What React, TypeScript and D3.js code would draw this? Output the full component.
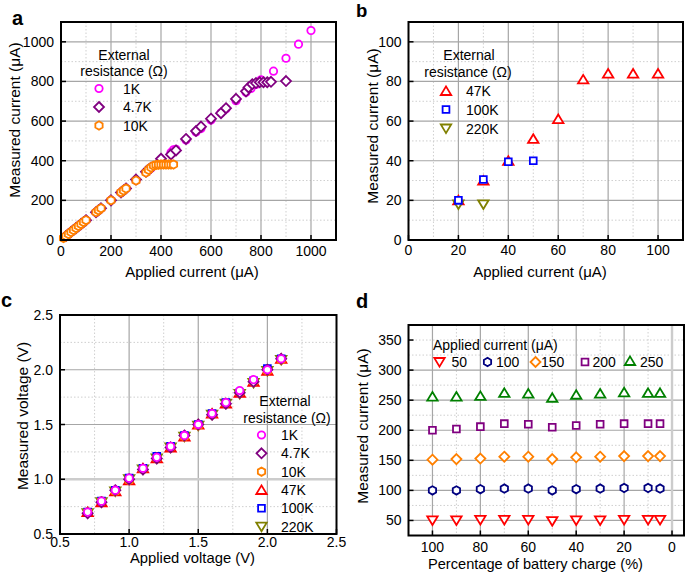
import React from 'react';
import * as d3 from 'd3';

const FONT = "'Liberation Sans', Arial, Helvetica, sans-serif";

// ---------- Panel a data ----------
const aX1K = [20, 30, 40, 50, 60, 70, 80, 90, 100, 140, 150, 160, 200, 240, 250, 260, 300, 340, 350, 360, 400, 440, 450, 460, 500, 540, 560, 600, 640, 660, 700, 740, 760, 780, 800, 850, 900, 950, 1000];
const aY1K = [20, 30, 40, 50, 60, 70, 80, 90, 100, 140, 150, 160, 200, 240, 250, 260, 302, 342, 352, 362, 405, 442, 455, 458, 505, 545, 562, 605, 642, 662, 703, 745, 765, 785, 808, 852, 917, 988, 1057];
const aX47 = [20, 30, 40, 50, 60, 70, 80, 90, 100, 140, 150, 160, 200, 240, 250, 260, 300, 340, 350, 360, 400, 440, 460, 500, 540, 560, 600, 640, 660, 700, 740, 750, 765, 780, 795, 810, 825, 840, 900];
const aY47 = [20, 30, 40, 50, 60, 70, 80, 90, 100, 140, 150, 160, 200, 240, 250, 260, 305, 345, 355, 365, 410, 432, 452, 510, 550, 572, 612, 640, 665, 712, 750, 770, 786, 792, 796, 796, 796, 798, 802];
const aX10K = [10, 20, 30, 40, 50, 60, 70, 80, 90, 100, 140, 150, 160, 200, 240, 250, 260, 300, 340, 350, 360, 370, 380, 390, 400, 410, 420, 430, 440, 450];
const aY10K = [10, 20, 30, 40, 50, 60, 70, 80, 90, 100, 140, 150, 160, 200, 240, 250, 260, 300, 340, 354, 366, 375, 379, 380, 381, 381, 381, 381, 381, 381];

// ---------- Panel b data ----------
const bX47K = [20, 30, 40, 50, 60, 70, 80, 90, 100];
const bY47K = [20, 30, 40, 51, 61, 81, 84, 84, 84];
const bX100K = [20, 30, 40, 50];
const bY100K = [20, 30.5, 39.5, 40];
const bX220K = [20, 30];
const bY220K = [18, 18];

// ---------- Panel c data ----------
const cX = [0.7, 0.8, 0.9, 1.0, 1.1, 1.2, 1.3, 1.4, 1.5, 1.6, 1.7, 1.8, 1.9, 2.0, 2.1];
const cY1K = [0.70, 0.80, 0.90, 1.01, 1.10, 1.20, 1.30, 1.40, 1.50, 1.60, 1.70, 1.81, 1.91, 2.00, 2.10];
const cY4K7 = [0.69, 0.79, 0.90, 1.00, 1.09, 1.19, 1.29, 1.40, 1.50, 1.59, 1.69, 1.79, 1.89, 2.00, 2.10];
const cY10K = [0.70, 0.80, 0.89, 0.99, 1.09, 1.19, 1.29, 1.39, 1.49, 1.59, 1.69, 1.79, 1.89, 1.99, 2.09];
const cY47K = [0.70, 0.79, 0.89, 0.99, 1.10, 1.19, 1.29, 1.39, 1.50, 1.60, 1.69, 1.79, 1.89, 1.99, 2.10];
const cY100K = [0.70, 0.80, 0.90, 1.01, 1.10, 1.21, 1.30, 1.40, 1.50, 1.60, 1.70, 1.79, 1.90, 2.01, 2.10];
const cY220K = [0.69, 0.79, 0.89, 1.00, 1.09, 1.19, 1.29, 1.39, 1.49, 1.59, 1.69, 1.78, 1.88, 1.99, 2.09];

// ---------- Panel d data ----------
const dX = [100, 90, 80, 70, 60, 50, 40, 30, 20, 10, 5];
const d50 = [50, 50, 51, 51, 51, 49, 50, 50, 51, 51, 51];
const d100 = [100, 100, 102, 103, 103, 100, 102, 103, 104, 104, 103];
const d150 = [151, 152, 153, 156, 156, 152, 155, 156, 157, 157, 157];
const d200 = [200, 202, 206, 211, 210, 205, 208, 210, 211, 211, 211];
const d250 = [256, 256, 257, 262, 261, 254, 259, 261, 263, 262, 262];

// ---------- tick values ----------
const aTicks = [0, 200, 400, 600, 800, 1000];
const aMinor = [100, 300, 500, 700, 900];
const bTicks = [0, 20, 40, 60, 80, 100];
const bMinor = [10, 30, 50, 70, 90];
const cTicks = [0.5, 1.0, 1.5, 2.0, 2.5];
const cMinor = [0.75, 1.25, 1.75, 2.25];
const dXTicks = [100, 80, 60, 40, 20, 0];
const dXMinor = [90, 70, 50, 30, 10];
const dYTicks = [50, 100, 150, 200, 250, 300, 350];
const dYMinor = [75, 125, 175, 225, 275, 325];

const C = {
  k1: '#ff00ff',
  k47: '#800080',
  k10: '#ff8000',
  k47K: '#ff0000',
  k100K: '#0000ff',
  k220K: '#808000',
  i50: '#ff0000',
  i100: '#000080',
  i150: '#ff8000',
  i200: '#800080',
  i250: '#008000',
};

type MarkerType = 'circle' | 'diamond' | 'hexagon' | 'triUp' | 'triDown' | 'square';

function Marker({ t, x, y, color }: { t: MarkerType; x: number; y: number; color: string }) {
  const sw = 1.8;
  const common = { fill: 'white', stroke: color, strokeWidth: sw };
  if (t === 'circle') return <circle cx={x} cy={y} r={3.7} {...common} />;
  let d = '';
  if (t === 'diamond') {
    const h = 5;
    d = `M0,${-h}L${h},0L0,${h}L${-h},0Z`;
  } else if (t === 'square') {
    const s = 3.4;
    d = `M${-s},${-s}H${s}V${s}H${-s}Z`;
  } else if (t === 'triUp') {
    d = `M0,-4.6L5.2,4L-5.2,4Z`;
  } else if (t === 'triDown') {
    d = `M0,4.6L5.2,-4L-5.2,-4Z`;
  } else if (t === 'hexagon') {
    const r = 4.2;
    const pts = d3.range(6).map((i) => {
      const a = (Math.PI / 3) * i - Math.PI / 2;
      return [r * Math.cos(a), r * Math.sin(a)];
    });
    d = 'M' + pts.map((p) => p.join(',')).join('L') + 'Z';
  }
  return <path d={d} transform={`translate(${x},${y})`} {...common} strokeLinejoin="miter" />;
}

interface Series {
  xs: number[];
  ys: number[];
  marker: MarkerType;
  color: string;
}

interface PanelProps {
  x0: number; x1: number; y0: number; y1: number;
  xDomain: [number, number]; yDomain: [number, number];
  xTicks: number[]; yTicks: number[];
  xGrid: number[]; xMinor: number[]; yGrid: number[]; yMinor: number[];
  xSpecial?: number[]; ySpecial?: number[];
  fmt: (v: number) => string;
  xTickDy: number;
  series: Series[];
  children?: React.ReactNode;
}

function Panel(p: PanelProps) {
  const xs = d3.scaleLinear().domain(p.xDomain).range([p.x0, p.x1]);
  const ys = d3.scaleLinear().domain(p.yDomain).range([p.y1, p.y0]);
  const majorStroke = '#a6a6a6';
  const minorStroke = '#cfcfcf';
  return (
    <g>
      {p.xMinor.map((v) => (
        <line key={'xm' + v} x1={xs(v)} x2={xs(v)} y1={p.y0} y2={p.y1} stroke={minorStroke} strokeWidth={1} strokeDasharray="1.5,2" />
      ))}
      {p.yMinor.map((v) => (
        <line key={'ym' + v} y1={ys(v)} y2={ys(v)} x1={p.x0} x2={p.x1} stroke={minorStroke} strokeWidth={1} strokeDasharray="1.5,2" />
      ))}
      {p.xGrid.map((v) => (
        <line key={'xg' + v} x1={xs(v)} x2={xs(v)} y1={p.y0} y2={p.y1} stroke={majorStroke} strokeWidth={1.2} />
      ))}
      {p.yGrid.map((v) => (
        <line key={'yg' + v} y1={ys(v)} y2={ys(v)} x1={p.x0} x2={p.x1} stroke={majorStroke} strokeWidth={1.2} />
      ))}
      {(p.xSpecial || []).map((v) => (
        <line key={'xs' + v} x1={xs(v)} x2={xs(v)} y1={p.y0} y2={p.y1} stroke="#cccccc" strokeWidth={2.4} />
      ))}
      {(p.ySpecial || []).map((v) => (
        <line key={'ys' + v} y1={ys(v)} y2={ys(v)} x1={p.x0} x2={p.x1} stroke="#cccccc" strokeWidth={2.4} />
      ))}
      {p.xTicks.map((v) => (
        <g key={'xt' + v}>
          <line x1={xs(v)} x2={xs(v)} y1={p.y1} y2={p.y1 - 5} stroke="black" strokeWidth={1.5} />
          <text x={xs(v)} y={p.y1 + p.xTickDy} textAnchor="middle" fontSize={14} fontFamily={FONT}>{p.fmt(v)}</text>
        </g>
      ))}
      {p.yTicks.map((v) => (
        <g key={'yt' + v}>
          <line x1={p.x0} x2={p.x0 + 5} y1={ys(v)} y2={ys(v)} stroke="black" strokeWidth={1.5} />
          <text x={p.x0 - 7} y={ys(v) + 5} textAnchor="end" fontSize={14} fontFamily={FONT}>{p.fmt(v)}</text>
        </g>
      ))}
      {p.series.map((s, si) => (
        <g key={'s' + si}>
          {s.xs.map((xv, i) => (
            <Marker key={i} t={s.marker} x={xs(xv)} y={ys(s.ys[i])} color={s.color} />
          ))}
        </g>
      ))}
      {p.children}
      <rect x={p.x0} y={p.y0} width={p.x1 - p.x0} height={p.y1 - p.y0} fill="none" stroke="black" strokeWidth={2} />
    </g>
  );
}

function T(props: any) {
  return <text fontFamily={FONT} fontSize={14} {...props} />;
}

function Legend({ x, tx, ys, items }: { x: number; tx: number; ys: number[]; items: { t: MarkerType; c: string; label: string }[] }) {
  return (
    <g>
      {items.map((it, i) => (
        <g key={i}>
          <Marker t={it.t} x={x} y={ys[i]} color={it.c} />
          <T x={tx} y={ys[i] + 5}>{it.label}</T>
        </g>
      ))}
    </g>
  );
}

export default function App() {
  const intFmt = (v: number) => String(v);
  const decFmt = (v: number) => v.toFixed(1);
  return (
    <svg width={685} height={574} style={{ position: 'absolute', left: 0, top: 0, background: 'white' }}>
      <rect x={0} y={0} width={685} height={574} fill="white" />
      {/* Panel a */}
      <Panel
        x0={61} x1={336} y0={22} y1={240}
        xDomain={[0, 1100]} yDomain={[0, 1100]}
        xTicks={aTicks} yTicks={aTicks}
        xGrid={aTicks.slice(1)} xMinor={aMinor} yGrid={aTicks.slice(1)} yMinor={aMinor}
        fmt={intFmt} xTickDy={15.5}
        series={[
          { xs: aX1K, ys: aY1K, marker: 'circle', color: C.k1 },
          { xs: aX47, ys: aY47, marker: 'diamond', color: C.k47 },
          { xs: aX10K, ys: aY10K, marker: 'hexagon', color: C.k10 },
        ]}
      >
        <T x={124} y={60} textAnchor="middle">External</T>
        <T x={124} y={76} textAnchor="middle">resistance (Ω)</T>
        <Legend x={99} tx={123} ys={[88.5, 107, 125.5]} items={[
          { t: 'circle', c: C.k1, label: '1K' },
          { t: 'diamond', c: C.k47, label: '4.7K' },
          { t: 'hexagon', c: C.k10, label: '10K' },
        ]} />
      </Panel>
      <text x={12} y={25} fontFamily={FONT} fontSize={20} fontWeight="bold">a</text>
      <text transform="translate(19.5,120) rotate(-90)" textAnchor="middle" fontFamily={FONT} fontSize={15.5}>Measured current (μA)</text>
      <text x={192} y={277} textAnchor="middle" fontFamily={FONT} fontSize={15}>Applied current (μA)</text>

      {/* Panel b */}
      <Panel
        x0={408.5} x1={683} y0={22} y1={240}
        xDomain={[0, 110]} yDomain={[0, 110]}
        xTicks={bTicks} yTicks={bTicks}
        xGrid={bTicks.slice(1)} xMinor={bMinor} yGrid={bTicks.slice(1)} yMinor={bMinor}
        fmt={intFmt} xTickDy={14.5}
        series={[
          { xs: bX47K, ys: bY47K, marker: 'triUp', color: C.k47K },
          { xs: bX220K, ys: bY220K, marker: 'triDown', color: C.k220K },
          { xs: bX100K, ys: bY100K, marker: 'square', color: C.k100K },
        ]}
      >
        <T x={469} y={60} textAnchor="middle">External</T>
        <T x={468} y={77} textAnchor="middle">resistance (Ω)</T>
        <Legend x={446} tx={466} ys={[91, 109.5, 128.5]} items={[
          { t: 'triUp', c: C.k47K, label: '47K' },
          { t: 'square', c: C.k100K, label: '100K' },
          { t: 'triDown', c: C.k220K, label: '220K' },
        ]} />
      </Panel>
      <text x={356} y={17} fontFamily={FONT} fontSize={18.5} fontWeight="bold">b</text>
      <text transform="translate(377.5,126) rotate(-90)" textAnchor="middle" fontFamily={FONT} fontSize={15.5}>Measured current (μA)</text>
      <text x={540} y={277} textAnchor="middle" fontFamily={FONT} fontSize={15}>Applied current (μA)</text>

      {/* Panel c */}
      <Panel
        x0={60} x1={336.5} y0={315} y1={534}
        xDomain={[0.5, 2.5]} yDomain={[0.5, 2.5]}
        xTicks={cTicks} yTicks={cTicks}
        xGrid={[1.0, 1.5, 2.0]} xMinor={cMinor} yGrid={[1.5, 2.0]} yMinor={cMinor}
        ySpecial={[1.0]}
        fmt={decFmt} xTickDy={13}
        series={[
          { xs: cX, ys: cY220K, marker: 'triDown', color: C.k220K },
          { xs: cX, ys: cY100K, marker: 'square', color: C.k100K },
          { xs: cX, ys: cY47K, marker: 'triUp', color: C.k47K },
          { xs: cX, ys: cY10K, marker: 'hexagon', color: C.k10 },
          { xs: cX, ys: cY4K7, marker: 'diamond', color: C.k47 },
          { xs: cX, ys: cY1K, marker: 'circle', color: C.k1 },
        ]}
      >
        <T x={285} y={406} textAnchor="middle">External</T>
        <T x={287} y={423} textAnchor="middle">resistance (Ω)</T>
        <Legend x={261.5} tx={281} ys={[435, 453.3, 471.7, 490, 508.3, 526.7]} items={[
          { t: 'circle', c: C.k1, label: '1K' },
          { t: 'diamond', c: C.k47, label: '4.7K' },
          { t: 'hexagon', c: C.k10, label: '10K' },
          { t: 'triUp', c: C.k47K, label: '47K' },
          { t: 'square', c: C.k100K, label: '100K' },
          { t: 'triDown', c: C.k220K, label: '220K' },
        ]} />
      </Panel>
      <text x={1} y={307} fontFamily={FONT} fontSize={20} fontWeight="bold">c</text>
      <text transform="translate(27.5,416) rotate(-90)" textAnchor="middle" fontFamily={FONT} fontSize={15.5}>Measured voltage (V)</text>
      <text x={192.5} y={563} textAnchor="middle" fontFamily={FONT} fontSize={14.8}>Applied voltage (V)</text>

      {/* Panel d */}
      <Panel
        x0={408.5} x1={684} y0={325} y1={535.5}
        xDomain={[110, -5]} yDomain={[25, 375]}
        xTicks={dXTicks} yTicks={dYTicks}
        xGrid={[100, 80, 60, 40, 20]} xMinor={dXMinor} yGrid={[50, 100, 150, 200, 250, 300]} yMinor={[...dYMinor, 350]}
        xSpecial={[0]}
        fmt={intFmt} xTickDy={16}
        series={[
          { xs: dX, ys: d50, marker: 'triDown', color: C.i50 },
          { xs: dX, ys: d100, marker: 'hexagon', color: C.i100 },
          { xs: dX, ys: d150, marker: 'diamond', color: C.i150 },
          { xs: dX, ys: d200, marker: 'square', color: C.i200 },
          { xs: dX, ys: d250, marker: 'triUp', color: C.i250 },
        ]}
      >
        <T x={433} y={350}>Applied current (μA)</T>
        <Marker t="triDown" x={439.5} y={362} color={C.i50} />
        <T x={451.5} y={367}>50</T>
        <Marker t="hexagon" x={487.5} y={362} color={C.i100} />
        <T x={496} y={367}>100</T>
        <Marker t="diamond" x={535.5} y={362} color={C.i150} />
        <T x={541} y={367}>150</T>
        <Marker t="square" x={585} y={362} color={C.i200} />
        <T x={592.5} y={367}>200</T>
        <Marker t="triUp" x={630} y={361} color={C.i250} />
        <T x={640} y={367}>250</T>
      </Panel>
      <text x={356} y={308} fontFamily={FONT} fontSize={20} fontWeight="bold">d</text>
      <text transform="translate(367.5,426) rotate(-90)" textAnchor="middle" fontFamily={FONT} fontSize={15.5}>Measured current (μA)</text>
      <text x={535.5} y={568.5} textAnchor="middle" fontFamily={FONT} fontSize={14.6}>Percentage of battery charge (%)</text>
    </svg>
  );
}
